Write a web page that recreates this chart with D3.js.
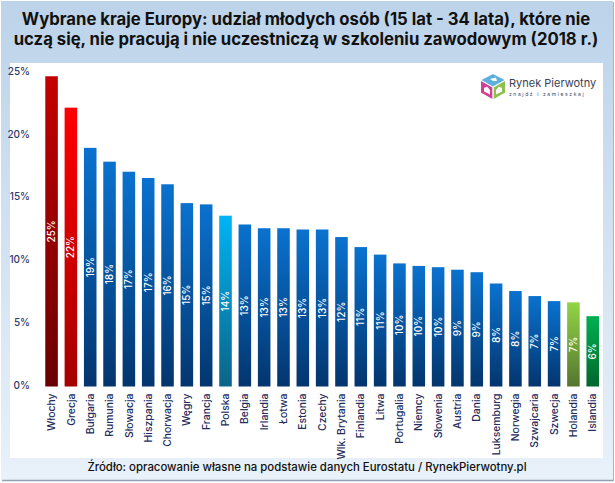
<!DOCTYPE html>
<html>
<head>
<meta charset="utf-8">
<script src="https://cdn.jsdelivr.net/npm/d3@7"></script>
<style>
  html, body { margin: 0; padding: 0; background: #fff; }
  svg { display: block; }
  text { font-family: "Inter", "Open Sans", sans-serif; }
</style>
</head>
<body>
<div id="chart"></div>
<script>
const countries = ["Włochy", "Grecja", "Bułgaria", "Rumunia", "Słowacja", "Hiszpania", "Chorwacja", "Węgry", "Francja", "Polska", "Belgia", "Irlandia", "Łotwa", "Estonia", "Czechy", "Wlk. Brytania", "Finlandia", "Litwa", "Portugalia", "Niemcy", "Słowenia", "Austria", "Dania", "Luksemburg", "Norwegia", "Szwajcaria", "Szwecja", "Holandia", "Islandia"];
const shares = [24.7, 22.2, 19.0, 17.9, 17.1, 16.6, 16.1, 14.6, 14.5, 13.6, 12.9, 12.6, 12.6, 12.5, 12.5, 11.9, 11.1, 10.5, 9.8, 9.6, 9.5, 9.3, 9.1, 8.2, 7.6, 7.2, 6.8, 6.7, 5.6];
const yTicks = [0, 5, 10, 15, 20, 25];
const titleLines = [
  "Wybrane kraje Europy: udział młodych osób (15 lat - 34 lata), które nie",
  "uczą się, nie pracują i nie uczestniczą w szkoleniu zawodowym (2018 r.)"
];
const sourceText = "Źródło: opracowanie własne na podstawie danych Eurostatu / RynekPierwotny.pl";

// top and bottom colour of the bar gradients
const barColors = {
  "Włochy": ["#c40000", "#690000"],
  "Grecja": ["#ff0000", "#a50000"],
  "Polska": ["#00b4f5", "#0b6488"],
  "Holandia": ["#92d545", "#557530"],
  "Islandia": ["#00b050", "#00672e"]
};
const defaultColor = ["#0a72cf", "#03356e"];

const width = 615, height = 483;

const svg = d3.select("#chart").append("svg")
  .attr("width", width)
  .attr("height", height);

const defs = svg.append("defs");

const bgGrad = defs.append("linearGradient")
  .attr("id", "bgGrad")
  .attr("x1", "0").attr("y1", "0").attr("x2", "0").attr("y2", "1");
bgGrad.append("stop").attr("offset", "0%").attr("stop-color", "#bcd3ea");
bgGrad.append("stop").attr("offset", "100%").attr("stop-color", "#e9f1f9");

function gradientFor(name) {
  return "bar" + countries.indexOf(name);
}

countries.forEach(name => {
  const c = barColors[name] || defaultColor;
  const g = defs.append("linearGradient")
    .attr("id", gradientFor(name))
    .attr("x1", "0").attr("y1", "0").attr("x2", "0").attr("y2", "1");
  g.append("stop").attr("offset", "0%").attr("stop-color", c[0]);
  g.append("stop").attr("offset", "100%").attr("stop-color", c[1]);
});

// background and frame
svg.append("rect")
  .attr("x", 1).attr("y", 1)
  .attr("width", 612).attr("height", 479)
  .attr("fill", "url(#bgGrad)");
svg.append("line")
  .attr("x1", 2).attr("x2", 613).attr("y1", 480.5).attr("y2", 480.5)
  .attr("stroke", "#8ea3b8").attr("stroke-width", 1.5);
svg.append("line")
  .attr("x1", 613.5).attr("x2", 613.5).attr("y1", 2).attr("y2", 481)
  .attr("stroke", "#9fb6cc").attr("stroke-width", 1);
svg.append("rect")
  .attr("x", 10).attr("y", 63)
  .attr("width", 593).attr("height", 395)
  .attr("fill", "#fff");

// title
svg.append("g").selectAll("text")
  .data(titleLines)
  .enter()
  .append("text")
  .attr("x", 306)
  .attr("y", (d, i) => 24.5 + i * 20)
  .attr("text-anchor", "middle")
  .attr("fill", "#111")
  .style("font-size", "16.7px")
  .style("font-weight", 650)
  .text(d => d);

const x = d3.scaleBand()
  .domain(countries)
  .range([41.8, 602.5])
  .paddingInner(0.35)
  .paddingOuter(0.18);

const y = d3.scaleLinear()
  .domain([0, 25])
  .range([386.5, 72.5]);

const yAxis = svg.append("g")
  .attr("transform", "translate(30,0)")
  .call(d3.axisLeft(y).tickValues(yTicks).tickSize(0).tickPadding(0).tickFormat(d => d + "%"));
yAxis.select(".domain").remove();
yAxis.selectAll("text")
  .attr("fill", "#2f3a68")
  .attr("dy", "0.18em")
  .style("font-family", "Inter, sans-serif")
  .style("font-size", "10px")
  .style("font-weight", 500);

const xAxis = svg.append("g")
  .attr("transform", "translate(0,386.5)")
  .call(d3.axisBottom(x).tickSize(0).tickPadding(0));
xAxis.select(".domain").remove();
xAxis.selectAll("text")
  .attr("transform", "translate(0,7) rotate(-90)")
  .attr("text-anchor", "end")
  .attr("x", 0)
  .attr("y", 0)
  .attr("dy", "0.35em")
  .attr("fill", "#232c5c")
  .style("font-family", "Inter, sans-serif")
  .style("font-size", "10.4px")
  .style("font-weight", 500);

// bars
const bars = svg.append("g").selectAll(".bar")
  .data(countries)
  .enter()
  .append("g")
  .attr("class", "bar");

bars.append("rect")
  .attr("x", d => x(d))
  .attr("y", (d, i) => y(shares[i]))
  .attr("width", x.bandwidth())
  .attr("height", (d, i) => y(0) - y(shares[i]))
  .attr("fill", d => "url(#" + gradientFor(d) + ")");

bars.append("text")
  .attr("transform", (d, i) => `translate(${x(d) + x.bandwidth() / 2},${(y(0) + y(shares[i])) / 2}) rotate(-90)`)
  .attr("text-anchor", "middle")
  .attr("dy", "0.36em")
  .attr("fill", "#fff")
  .style("font-size", "10px")
  .style("font-weight", 500)
  .text((d, i) => Math.round(shares[i]) + "%");

// source line
svg.append("text")
  .attr("x", 307)
  .attr("y", 470.5)
  .attr("text-anchor", "middle")
  .attr("fill", "#111")
  .style("font-size", "11.4px")
  .style("font-weight", 500)
  .text(sourceText);

// logo
const logo = svg.append("g").attr("transform", "translate(481,74)");
logo.append("path").attr("d", "M12 0 L23.5 6 L12 12.5 L0.5 6 Z").attr("fill", "#5dafdc");
logo.append("path").attr("d", "M0 7 L11.3 13.5 L11.3 25 L0 18.5 Z").attr("fill", "#d63c94");
logo.append("path").attr("d", "M24 7 L12.7 13.5 L12.7 25 L24 18.5 Z").attr("fill", "#8cc04a");
logo.append("path").attr("d", "M3 14 L6 12.5 L9 16 L9 20.5 L3 17.5 Z").attr("fill", "#fff");
logo.append("path").attr("d", "M21 14 L18 12.5 L15 16 L15 20.5 L21 17.5 Z").attr("fill", "#fff");
logo.append("path").attr("d", "M9 5 L15 3.5 L16 7 L12 7 Z").attr("fill", "#fff");
svg.append("text")
  .attr("x", 509).attr("y", 87)
  .attr("fill", "#3a3f55")
  .style("font-size", "11px")
  .text("Rynek Pierwotny");
svg.append("text")
  .attr("x", 509).attr("y", 96)
  .attr("fill", "#3a3f55")
  .style("font-size", "5px")
  .style("letter-spacing", "1.6px")
  .text("znajdź i zamieszkaj");
</script>
</body>
</html>
